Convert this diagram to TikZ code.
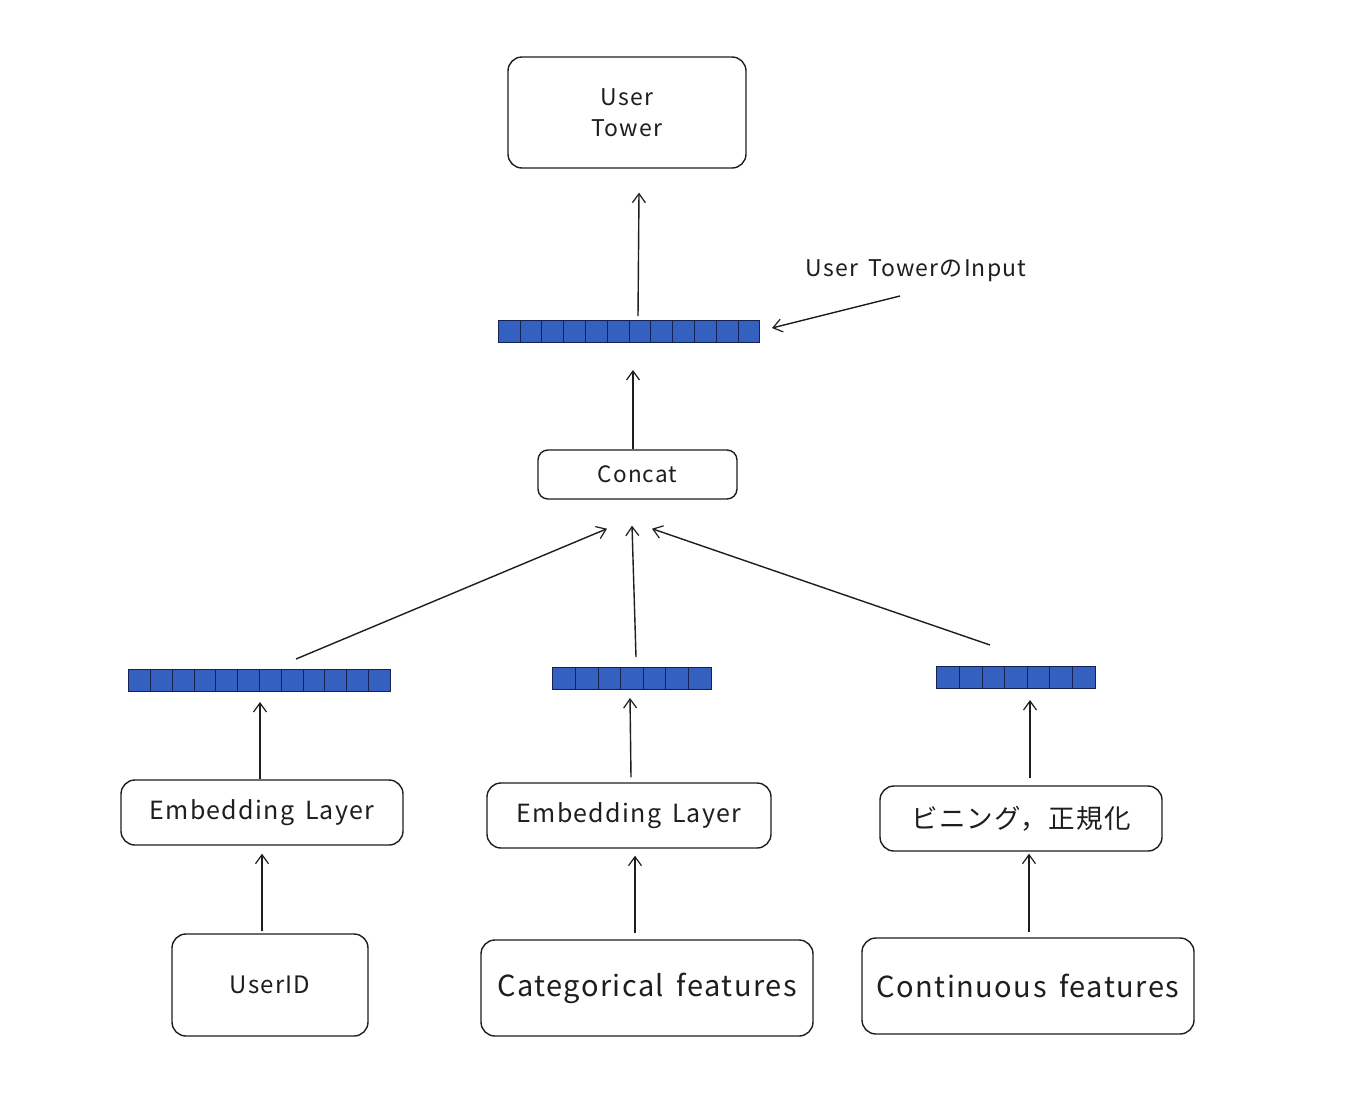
\documentclass[tikz,border=0pt]{standalone}
\usepackage{fontspec}
\setmainfont[LetterSpace=5,WordSpace=1.6]{Noto Sans CJK JP}
\usetikzlibrary{arrows.meta,calc}
\definecolor{barblue}{RGB}{52,96,192}
\definecolor{barline}{RGB}{22,34,80}
\definecolor{ink}{RGB}{30,30,30}
\tikzset{
  box/.style={draw=ink, line width=1.4pt, rounded corners=14pt, fill=white, inner sep=0pt, align=center, text=ink},
  sbox/.style={box, rounded corners=10pt},
  bar/.style={draw=barline, fill=barblue, line width=1pt, inner sep=0pt, outer sep=0pt, minimum height=22pt},
  arr/.style={draw=ink, line width=1.4pt, -{Straight Barb[length=9pt,width=13pt,line width=1.2pt]}},
  lbl/.style={text=ink, inner sep=0pt}
}
\newcommand\vecbar[5]{% name, x, y, n, cellw
  \node[bar, minimum width=#4*#5pt] (#1) at (#2,#3) {};
  \foreach \i in {1,...,#4}{
    \ifnum\i<#4
    \draw[barline, line width=0.9pt] ($(#1.north west)+(\i*#5,0)$) -- ($(#1.south west)+(\i*#5,0)$);
    \fi
  }
}
\begin{document}
\begin{tikzpicture}[x=1pt,y=-1pt]
\useasboundingbox[fill=white] (0,0) rectangle (1362,1111);

% boxes
\node[box, minimum width=238pt, minimum height=111pt, font=\fontsize{23}{31}\selectfont] (tower) at (627,112.5) {User\\Tower};
\node[sbox, minimum width=199pt, minimum height=49pt, font=\fontsize{22.5}{25}\selectfont] (concat) at (637.5,474.5) {Concat};
\node[box, minimum width=282pt, minimum height=65pt, font=\fontsize{25}{28}\selectfont] (emb1) at (262,812.5) {Embedding Layer};
\node[box, minimum width=284pt, minimum height=65pt, font=\fontsize{25}{28}\selectfont] (emb2) at (629,815.5) {Embedding Layer};
\node[box, minimum width=282pt, minimum height=65pt, font=\fontsize{26.5}{30}\selectfont] (bin) at (1021,818.5) {ビニング，正規化};
\node[box, minimum width=196pt, minimum height=102pt, font=\fontsize{24}{25}\selectfont] (uid) at (270,985) {UserID};
\node[box, minimum width=332pt, minimum height=96pt, font=\fontsize{29}{31}\selectfont] (cat) at (647,988) {Categorical features};
\node[box, minimum width=332pt, minimum height=96pt, font=\fontsize{29}{31}\selectfont] (cont) at (1028,986) {Continuous features};

% vector bars
\vecbar{topbar}{629}{331}{12}{21.8}
\vecbar{lbar}{259.5}{680}{12}{21.8}
\vecbar{mbar}{632}{678}{7}{22.6}
\vecbar{rbar}{1016}{677}{7}{22.6}

% annotation
\node[lbl, font=\fontsize{23}{25}\selectfont] (note) at (916,271) {User TowerのInput};
\coordinate (noteTail) at (900,296);
\coordinate (noteTip) at (772,328);
\draw[arr] (noteTail) -- (noteTip);

% arrows
\draw[arr] ([xshift=9pt,yshift=4pt]topbar.north) -- ([xshift=12pt,yshift=-24pt]tower.south);
\draw[arr] ([xshift=-4.5pt]concat.north) -- ([xshift=4pt,yshift=-28pt]topbar.south);
\draw[arr] ([xshift=36.5pt,yshift=10pt]lbar.north) -- ([xshift=-30.5pt,yshift=-29pt]concat.south);
\draw[arr] ([xshift=4pt,yshift=10pt]mbar.north) -- ([xshift=-5.5pt,yshift=-26pt]concat.south);
\draw[arr] ([xshift=-26pt,yshift=21pt]rbar.north) -- ([xshift=14.5pt,yshift=-29pt]concat.south);
\draw[arr] ([xshift=-2pt]emb1.north) -- ([xshift=0.5pt,yshift=-11pt]lbar.south);
\draw[arr] ([xshift=2pt,yshift=5pt]emb2.north) -- ([xshift=-2pt,yshift=-9pt]mbar.south);
\draw[arr] ([xshift=9pt,yshift=7pt]bin.north) -- ([xshift=14pt,yshift=-12pt]rbar.south);
\draw[arr] ([xshift=-8pt,yshift=2pt]uid.north) -- ([yshift=-8pt]emb1.south);
\draw[arr] ([xshift=-12pt,yshift=6pt]cat.north) -- ([xshift=6pt,yshift=-7pt]emb2.south);
\draw[arr] ([xshift=1pt,yshift=5pt]cont.north) -- ([xshift=8pt,yshift=-2pt]bin.south);
\end{tikzpicture}
\end{document}
